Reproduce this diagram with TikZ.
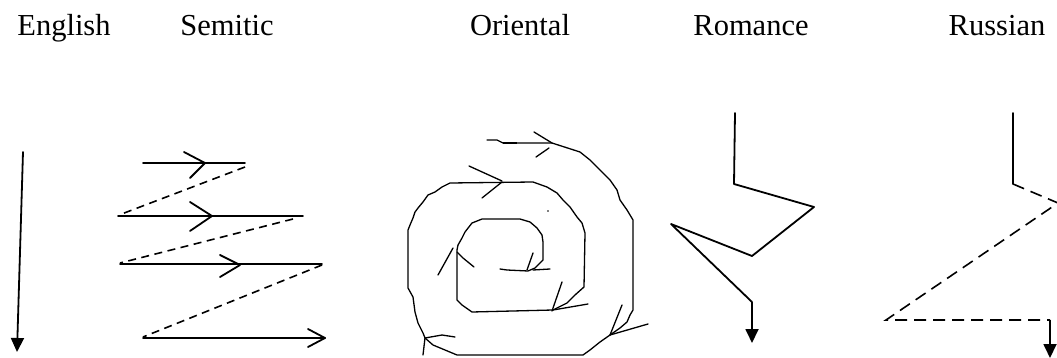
\documentclass[tikz,border=0pt]{standalone}
\usepackage{fontspec}
\setmainfont{Liberation Serif}
\usetikzlibrary{arrows.meta}
\tikzset{
  lbl/.style={anchor=base, inner sep=0pt, font=\fontsize{30.5}{36}\selectfont},
  solidline/.style={line width=1.8pt, line cap=round, line join=round},
  dashline/.style={line width=1.6pt, dash pattern=on 8pt off 5.5pt},
  rdash/.style={line width=1.6pt, dash pattern=on 12pt off 7pt},
  spiral/.style={line width=1.3pt, line join=round, line cap=round},
  tri/.style={-{Triangle[length=14pt,width=13pt]}},
}
\begin{document}
\begin{tikzpicture}[x=1pt,y=-1pt]
\useasboundingbox (0,0) rectangle (1057,358);
% labels
\node[lbl] (en) at (64,36) {English};
\node[lbl] (se) at (227,36) {Semitic};
\node[lbl] (or) at (520,36) {Oriental};
\node[lbl] (ro) at (751,36) {Romance};
\node[lbl] (ru) at (997,36) {Russian};

% English
\coordinate (e1) at (23,152);
\coordinate (e2) at (17,352);
\draw[solidline, tri] (e1) -- (e2);

% Semitic
\coordinate (s1a) at (143,163); \coordinate (s1b) at (245,163);
\coordinate (s2a) at (118,216); \coordinate (s2b) at (303,216);
\coordinate (s3a) at (120,264); \coordinate (s3b) at (322,264);
\coordinate (s4a) at (143,338); \coordinate (s4b) at (325,338);
\draw[solidline] (s1a) -- (s1b);
\draw[solidline] (184,152) -- (205,163) -- (190,178);
\draw[dashline] (245,167) -- (119,215);
\draw[solidline] (s2a) -- (s2b);
\draw[solidline] (190,202) -- (212,216) -- (190,231);
\draw[dashline] (293,219) -- (120,263);
\draw[solidline] (s3a) -- (s3b);
\draw[solidline] (220,255) -- (240,265) -- (220,277);
\draw[dashline] (322,265) -- (143,337);
\draw[solidline] (s4a) -- (s4b);
\draw[solidline] (308,329) -- (325,338) -- (308,347);

% Oriental spiral
\draw[spiral] (487,140) -- (497,140) -- (503,143) -- (552,143) -- (580,152) -- (590,160) -- (600,170) -- (610,180) -- (617,190) -- (620,200) -- (627,210) -- (633,220) -- (633,310) -- (630,315) -- (627,322) -- (620,328) -- (610,335) -- (600,342) -- (590,350) -- (583,355) -- (457,355) -- (433,345) -- (425,338) -- (423,333) -- (418,323) -- (415,312) -- (413,297) -- (408,288) -- (408,230) -- (410,225) -- (413,218) -- (415,212) -- (418,208) -- (423,202) -- (428,195) -- (435,192) -- (442,187) -- (450,183) -- (533,182) -- (547,187) -- (557,193) -- (563,200) -- (570,207) -- (577,217) -- (582,223) -- (585,233) -- (584,287) -- (575,295) -- (567,303) -- (553,310) -- (472,312) -- (462,305) -- (457,300) -- (457,250) -- (458,245) -- (462,238) -- (465,232) -- (472,223) -- (482,219) -- (520,219) -- (530,222) -- (537,228) -- (542,235) -- (543,242) -- (543,260) -- (538,265) -- (535,268) -- (528,271) -- (507,270) -- (500,269);
\draw[line width=2.4pt] (503,143) -- (517,143);
\draw[spiral] (534,132) -- (552,143);
\draw[spiral] (536,157) -- (549,148);
\draw[spiral] (469,166) -- (502,181);
\draw[spiral] (482,198) -- (502,182);
\draw[spiral] (453,248) -- (438,275);
\draw[spiral] (457,252) -- (463,258) -- (474,267);
\draw[spiral] (527,270) -- (533,253);
\draw[spiral] (533,270) -- (550,269);
\draw[spiral] (552,311) -- (562,282);
\draw[spiral] (553,310) -- (588,304);
\draw[spiral] (610,335) -- (622,305);
\draw[spiral] (610,335) -- (648,324);
\draw[spiral] (425,338) -- (442,335) -- (455,337);
\draw[spiral] (425,338) -- (423,355);
\fill (548,211) circle (0.8pt);

% Romance
\coordinate (r1) at (735,113);
\coordinate (r2) at (734,184);
\coordinate (r3) at (814,207);
\coordinate (r4) at (752,256);
\coordinate (r5) at (671,224);
\coordinate (r6) at (752,302);
\coordinate (r7) at (752,343);
\draw[solidline] (r1) -- (r2) -- (r3) -- (r4) -- (r5) -- (r6);
\draw[solidline, tri, line cap=butt] (r6) -- (r7);

% Russian
\coordinate (u1) at (1013,113);
\coordinate (u2) at (1013,184);
\coordinate (u3) at (1058,203);
\coordinate (u4) at (886,320);
\coordinate (u5) at (1050,320);
\coordinate (u6) at (1050,358);
\draw[solidline] (u1) -- (u2);
\draw[rdash] (u2) -- (u3) -- (u4) -- (u5);
\draw[solidline, tri, line cap=butt] (u5) -- (u6);
\end{tikzpicture}
\end{document}
